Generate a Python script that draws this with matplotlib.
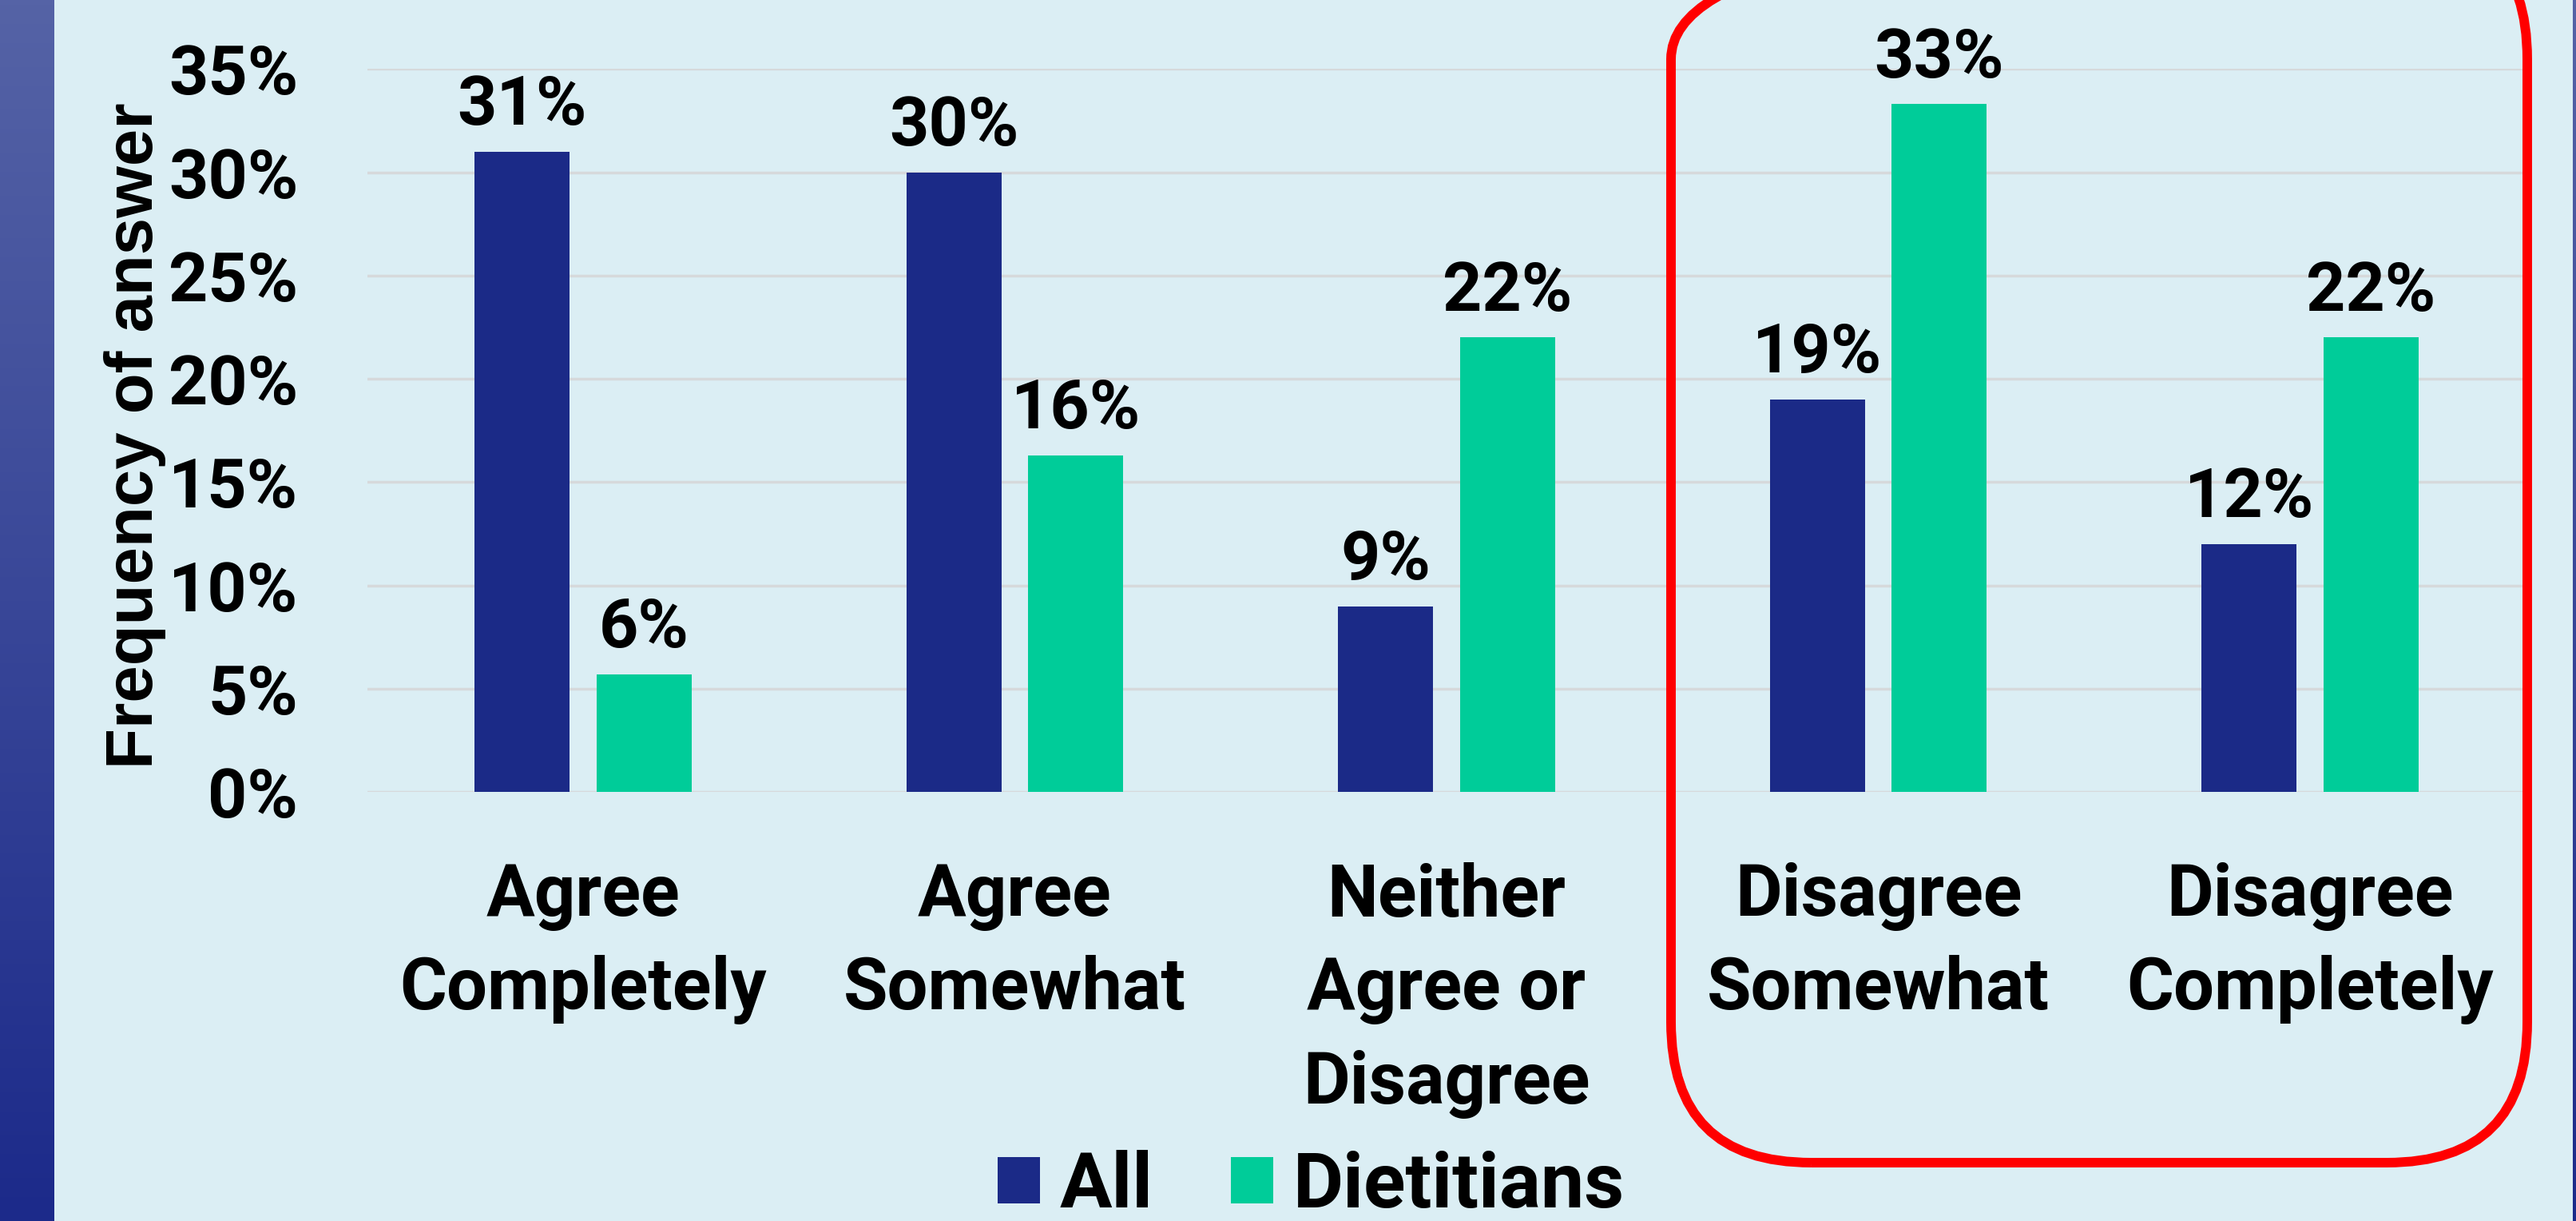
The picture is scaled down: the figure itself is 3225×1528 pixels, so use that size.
import numpy as np
import matplotlib
matplotlib.use('Agg')
import matplotlib.pyplot as plt
from matplotlib.patches import FancyBboxPatch

# datos
categorias = ['Agree\nCompletely', 'Agree\nSomewhat', 'Neither\nAgree or\nDisagree',
              'Disagree\nSomewhat', 'Disagree\nCompletely']
valores_all = [31, 30, 9, 19, 12]
valores_diet = [5.7, 16.3, 22.0, 33.3, 22.0]
series = ['All', 'Dietitians']
yticks = [0, 5, 10, 15, 20, 25, 30, 35]
ytick_labels = ['0%', '5%', '10%', '15%', '20%', '25%', '30%', '35%']

fondo = '#dbeef4'
azul = '#1b2a87'
verde = '#00cc99'

plt.rcParams['font.family'] = ['Roboto', 'DejaVu Sans']
plt.rcParams['font.weight'] = 'bold'

fig = plt.figure(figsize=(32.25, 15.28), dpi=100, facecolor=fondo)

# franjas laterales con degradado
grad = np.linspace(0, 1, 256).reshape(-1, 1)
cmap = matplotlib.colors.LinearSegmentedColormap.from_list('f', ['#1c2a8a', '#5563a6'])
for pos in [[0, 0, 68 / 3225, 1], [3221 / 3225, 0, 4 / 3225, 1]]:
    fr = fig.add_axes(pos)
    fr.imshow(grad, aspect='auto', cmap=cmap, origin='lower', extent=[0, 1, 0, 1])
    fr.axis('off')

ax = fig.add_axes([0.1425, 0.3513, 0.9806 - 0.1425, 0.9435 - 0.3513])
ax.set_facecolor(fondo)

x = np.arange(len(categorias))
ancho = 0.22
off = 0.141
b1 = ax.bar(x - off, valores_all, ancho, color=azul, label=series[0], zorder=3)
b2 = ax.bar(x + off, valores_diet, ancho, color=verde, label=series[1], zorder=3)

for barras, vals in [(b1, valores_all), (b2, valores_diet)]:
    for b, v in zip(barras, vals):
        ax.annotate(f'{round(v)}%', (b.get_x() + b.get_width() / 2, v),
                    xytext=(0, 12), textcoords='offset points', ha='center', va='bottom',
                    fontsize=62, fontweight='bold', annotation_clip=False)

ax.set_xlim(-0.5, 4.5)
ax.set_ylim(0, 35)
ax.set_yticks(yticks)
ax.set_yticklabels(ytick_labels, fontsize=62, fontweight='bold')
ax.set_xticks(x)
ax.set_xticklabels(categorias, fontsize=65, fontweight='bold', linespacing=1.45)
ax.tick_params(axis='y', length=0, pad=62)
ax.tick_params(axis='x', length=0, pad=63)
ax.grid(axis='y', color='#d6d9db', linewidth=2.5, zorder=0)
for s in ax.spines.values():
    s.set_visible(False)

fig.text(169 / 3225, 0.643, 'Frequency of answer', rotation=90, ha='center', va='center',
         fontsize=60, fontweight='bold', family=['Liberation Sans', 'DejaVu Sans'])

fig.legend(handles=[b1, b2], labels=series, loc='center', bbox_to_anchor=(0.509, 0.028),
           ncol=2, frameon=False, prop={'size': 70, 'weight': 'bold'},
           handlelength=0.55, handleheight=0.55, handletextpad=0.25, columnspacing=1.0)

# recuadro rojo redondeado (en pulgadas)
caja = FancyBboxPatch((20.92, 0.73), 31.64 - 20.92, 16.3 - 0.73,
                      boxstyle='round,pad=0,rounding_size=1.76',
                      transform=fig.dpi_scale_trans, fill=False,
                      edgecolor='#ff0000', linewidth=8.6, zorder=10)
fig.patches.append(caja)

fig.savefig('out.png', dpi=100, facecolor=fondo)
